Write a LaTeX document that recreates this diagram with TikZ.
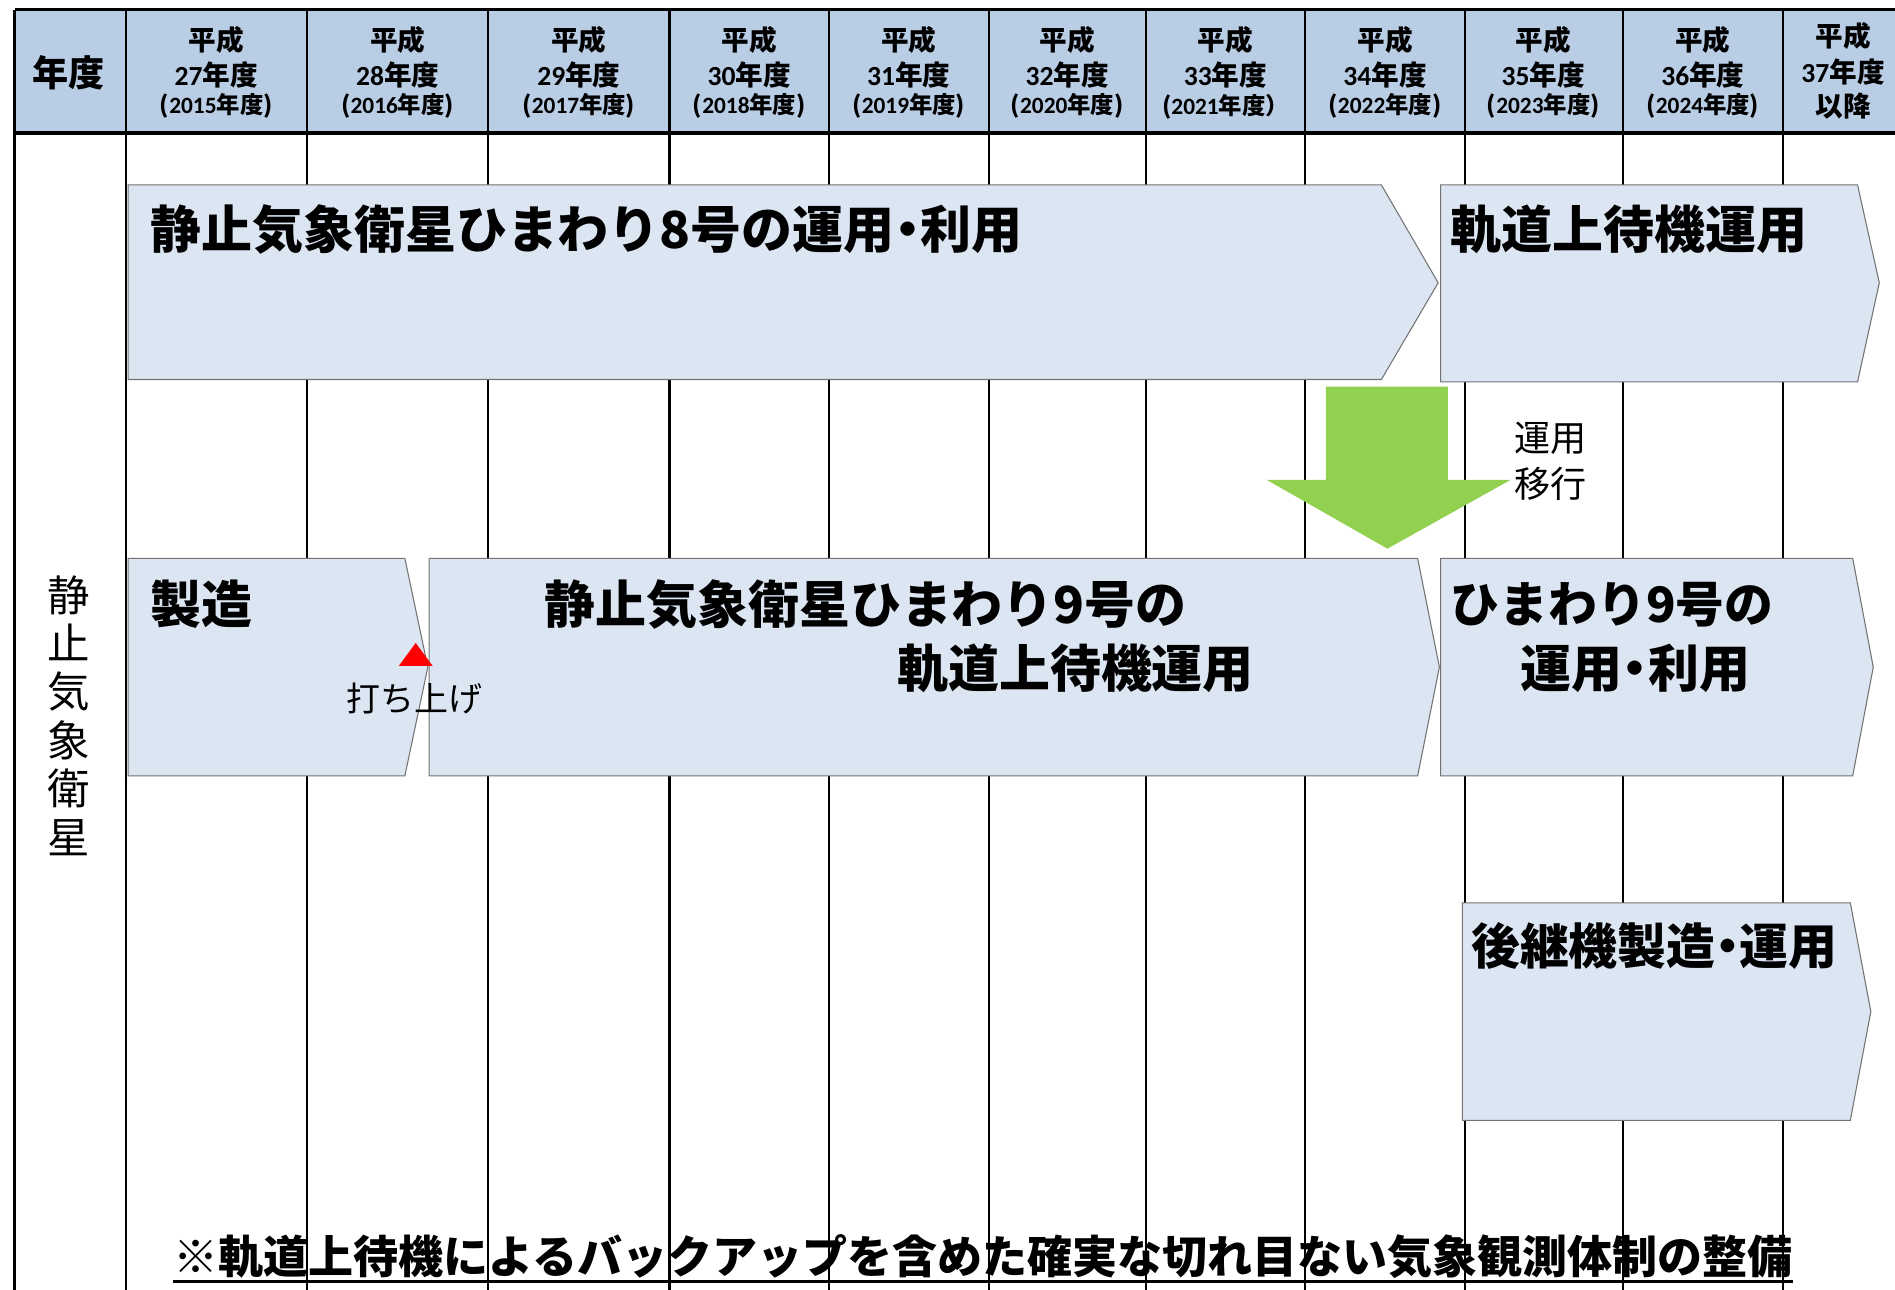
\documentclass[tikz,border=0pt]{standalone}
\usepackage{fontspec}
\newfontfamily\jp{Noto Sans CJK JP}
\newfontfamily\num{Carlito}
\usetikzlibrary{positioning}
\definecolor{hdrblue}{RGB}{185,205,229}
\definecolor{barblue}{RGB}{220,230,242}
\definecolor{arrowgreen}{RGB}{146,208,80}
\newcommand{\nakadot}{\kern-.25em・\kern-.25em}
\tikzset{
  barbox/.style={fill=barblue,draw=black!55,line width=0.5pt},
  bartext/.style={font=\jp\bfseries\fontsize{24}{28}\selectfont,anchor=west,inner sep=0pt},
  hdrtext/.style={font=\jp\bfseries\fontsize{13}{15}\selectfont,inner sep=0pt},
  hdrsmall/.style={font=\jp\bfseries\fontsize{11}{13}\selectfont,inner sep=0pt},
  notetext/.style={font=\jp\fontsize{16}{21.6}\selectfont,inner sep=0pt,align=center}
}

\begin{document}
\begin{tikzpicture}[x=0.02cm,y=-0.02cm]
\useasboundingbox (0,0) rectangle (1568,1067);
\fill[white] (0,0) rectangle (1568,1067);
% header row and grid
\fill[hdrblue] (12,8) rectangle (1568,110);
\foreach \x in {104,254,404,554,686,818,948,1080,1212,1343,1475}
  \draw[line width=1pt] (\x,8) -- (\x,1067);
\draw[line width=1.5pt] (12,8) -- (1568,8);
\draw[line width=1.5pt] (12,110) -- (1568,110);
\draw[line width=1.5pt] (12,8) -- (12,1067);
\node[font=\jp\bfseries\fontsize{17}{20}\selectfont,inner sep=0pt] (nendo) at (57,60) {年度};
\foreach \cx/\ny/\ay/\cp in {179/27/2015/),329/28/2016/),479/29/2017/),620/30/2018/),752/31/2019/),883/32/2020/),1014/33/2021/）,1146/34/2022/),1277/35/2023/),1409/36/2024/)}{
  \node[hdrtext] (p\ny) at (\cx,33) {平成};
  \node[hdrtext] (n\ny) at (\cx,62) {{\num\ny}年度};
  \node[hdrsmall] (w\ny) at (\cx,88) {({\num\ay}年度\cp};
}
\node[hdrtext] (p37) at (1525,30) {平成};
\node[hdrtext] (n37) at (1525,60) {{\num 37}年度};
\node[hdrtext] (w37) at (1525,88) {以降};
% side label
\node[font=\jp\fontsize{20}{22.8}\selectfont,inner sep=0pt,align=center] (side) at (57,592) {静\\止\\気\\象\\衛\\星};
% bars
\draw[barbox] (106,153) -- (1143,153) -- (1190,234) -- (1143,314) -- (106,314) -- cycle;
\draw[barbox] (1192,153) -- (1537,153) -- (1555,234) -- (1537,316) -- (1192,316) -- cycle;
\draw[barbox] (106,462) -- (335,462) -- (354,552) -- (335,642) -- (106,642) -- cycle;
\draw[barbox] (355,462) -- (1173,462) -- (1191,552) -- (1173,642) -- (355,642) -- cycle;
\draw[barbox] (1192,462) -- (1533,462) -- (1550,552) -- (1533,642) -- (1192,642) -- cycle;
\draw[barbox] (1210,747) -- (1531,747) -- (1548,837) -- (1531,927) -- (1210,927) -- cycle;
\node[bartext] (h8use) at (124,190) {静止気象衛星ひまわり8号の運用\nakadot 利用};
\node[bartext] (h8wait) at (1200,190) {軌道上待機運用};
\node[bartext] (build) at (124,500) {製造};
\node[bartext] (h9a) at (450,500) {静止気象衛星ひまわり9号の};
\node[bartext] (h9b) at (742,553) {軌道上待機運用};
\node[bartext,font=\jp\bfseries\fontsize{23}{27}\selectfont] (h9usea) at (1200,500) {ひまわり9号の};
\node[bartext] (h9useb) at (1258,553) {運用\nakadot 利用};
\node[bartext,font=\jp\bfseries\fontsize{23}{27}\selectfont] (next) at (1217,783) {後継機製造\nakadot 運用};
% launch mark
\fill[red] (344,532) -- (358,551) -- (330,551) -- cycle;
\node[notetext] (launch) at (343,578) {打ち上げ};
% hand-over arrow
\fill[arrowgreen] (1097,320) -- (1198,320) -- (1198,397) -- (1250,397) -- (1148,454) -- (1048,397) -- (1097,397) -- cycle;
\node[notetext,font=\jp\fontsize{17}{21.6}\selectfont] (shift) at (1283,382) {運用\\移行};
% footnote
\node[font=\jp\bfseries\fontsize{21.2}{25}\selectfont,anchor=west,inner sep=0pt] (foot) at (143,1040) {※軌道上待機によるバックアップを含めた確実な切れ目ない気象観測体制の整備};
\draw[line width=1.5pt] ([yshift=-1pt]foot.south west) -- ([yshift=-1pt]foot.south east);
\end{tikzpicture}
\end{document}
